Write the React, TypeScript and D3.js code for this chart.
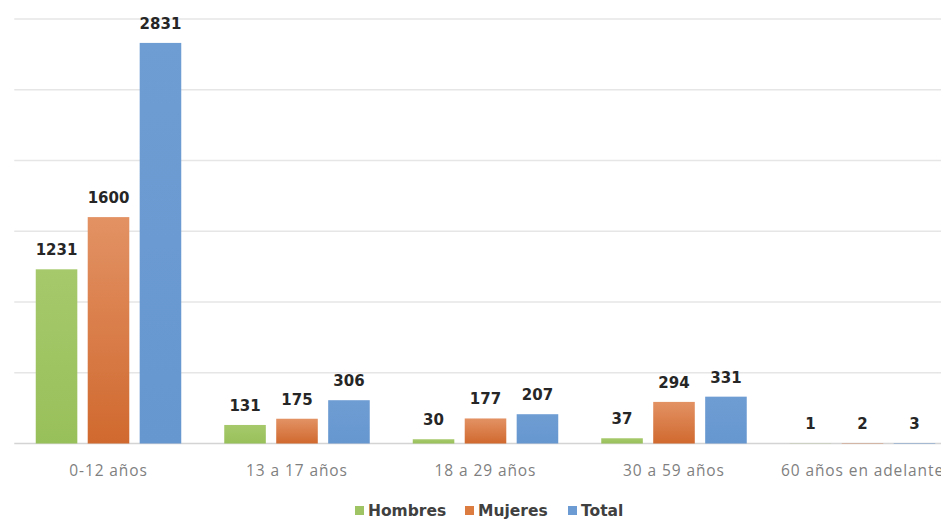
import React from 'react'
import * as d3 from 'd3'

const categories = ['0-12 años', '13 a 17 años', '18 a 29 años', '30 a 59 años', '60 años en adelante']
const seriesNames = ['Hombres', 'Mujeres', 'Total']
const hombres = [1231, 131, 30, 37, 1]
const mujeres = [1600, 175, 177, 294, 2]
const total = [2831, 306, 207, 331, 3]
const yTicks = [0, 500, 1000, 1500, 2000, 2500, 3000]

const colors: Record<string, string> = {
  Hombres: 'url(#gHombres)',
  Mujeres: 'url(#gMujeres)',
  Total: 'url(#gTotal)',
}
const legendColors: Record<string, string> = {
  Hombres: '#9fc463',
  Mujeres: '#dd7c40',
  Total: '#6b9bd2',
}

const W = 941
const H = 522

const App: React.FC = () => {
  const values: Record<string, number[]> = { Hombres: hombres, Mujeres: mujeres, Total: total }

  // the plot runs past the right edge of the picture, like the original crop
  const x0 = d3.scaleBand<string>().domain(categories).range([14.25, 956.75])
  const x1 = d3.scaleBand<string>().domain(seriesNames).range([21.5, 167]).paddingInner(0.2)
  const y = d3.scaleLinear().domain([0, 3000]).range([443.5, 19])

  const labelFont = "'DejaVu Sans', sans-serif"

  // legend layout
  const legendItems = [
    { name: 'Hombres', x: 355 },
    { name: 'Mujeres', x: 465 },
    { name: 'Total', x: 568 },
  ]

  return (
    <svg width={W} height={H} style={{ display: 'block', position: 'absolute', left: 0, top: 0 }}>
      <defs>
        <linearGradient id="gHombres" x1="0" y1="0" x2="0" y2="1">
          <stop offset="0" stopColor="#a6c96b" />
          <stop offset="1" stopColor="#98c05a" />
        </linearGradient>
        <linearGradient id="gMujeres" x1="0" y1="0" x2="0" y2="1">
          <stop offset="0" stopColor="#e39264" />
          <stop offset="1" stopColor="#d0692f" />
        </linearGradient>
        <linearGradient id="gTotal" x1="0" y1="0" x2="0" y2="1">
          <stop offset="0" stopColor="#6e9dd3" />
          <stop offset="1" stopColor="#6697cf" />
        </linearGradient>
      </defs>
      <rect x={0} y={0} width={W} height={H} fill="#ffffff" />

      {yTicks.map((t) => (
        <line
          key={t}
          x1={14.25}
          x2={956.75}
          y1={y(t)}
          y2={y(t)}
          stroke={t === 0 ? '#d4d4d4' : '#e6e6e6'}
          strokeWidth={1.5}
        />
      ))}

      {categories.map((c, i) => (
        <g key={c} transform={`translate(${x0(c)},0)`}>
          {seriesNames.map((s) => {
            const v = values[s][i]
            const bx = x1(s) as number
            return (
              <g key={s}>
                <rect
                  x={bx}
                  y={y(v)}
                  width={x1.bandwidth()}
                  height={y(0) - y(v)}
                  fill={colors[s]}
                />
                <text
                  x={bx + x1.bandwidth() / 2}
                  y={y(v) - 14}
                  textAnchor="middle"
                  fontFamily={labelFont}
                  fontWeight="bold"
                  fontSize={15}
                  fill="#262626"
                >
                  {v}
                </text>
              </g>
            )
          })}
          <text
            x={x0.bandwidth() / 2}
            y={476}
            textAnchor="middle"
            fontFamily="'Open Sans', sans-serif"
            fontSize={15.5}
            letterSpacing={0.9}
            fill="#7f7f7f"
          >
            {c}
          </text>
        </g>
      ))}

      {legendItems.map((d) => (
        <g key={d.name} transform={`translate(${d.x},0)`}>
          <rect x={0} y={506} width={9} height={9} fill={legendColors[d.name]} />
          <text
            x={13}
            y={516}
            fontFamily={labelFont}
            fontWeight="bold"
            fontSize={15.5}
            fill="#404040"
          >
            {d.name}
          </text>
        </g>
      ))}
    </svg>
  )
}

export default App
